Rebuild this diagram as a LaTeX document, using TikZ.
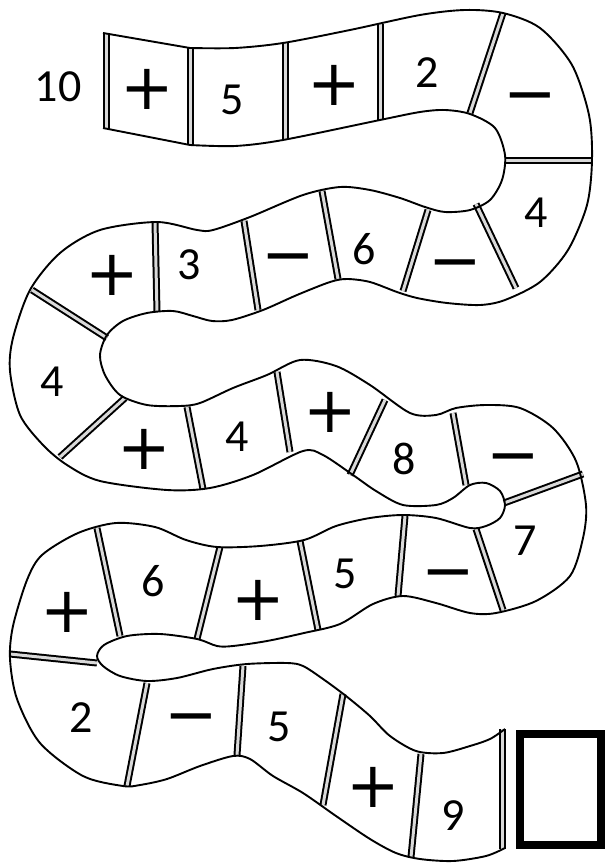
\documentclass[tikz,border=0pt]{standalone}
\usepackage{fontspec}
\usepackage{tikz}
\newfontfamily\cellfont{Carlito}
\newfontfamily\signfont{DejaVu Sans}
\tikzset{
  edge/.style={line width=1.9pt, line join=round},
  wall/.style={double=black!15, double distance=3pt, line width=2pt},
  cellnum/.style={font=\cellfont\fontsize{46}{46}\selectfont, inner sep=0pt},
  cellsign/.style={font=\signfont\fontsize{64}{64}\selectfont, inner sep=0pt},
  answerbox/.style={draw, line width=8pt, minimum width=81pt, minimum height=111pt, inner sep=0pt}
}

\begin{document}
\begin{tikzpicture}[x=1pt, y=-1pt]
  \useasboundingbox (0,0) rectangle (607,864);

  % Trennwaende zwischen den Feldern (doppelte Linien)
  \foreach \xa/\ya/\xb/\yb in {106/33/106/129, 190/48/190/145, 285/43/285/140, 380/24/380/120,
      503/13/470/113, 505/160/592/160,
      476/204/516/288, 428/210/403/291, 322/191/338/279, 244/221/258/310, 155/222/157/312, 32/290/107/338,
      60/457/125/398, 187/407/203/489, 277/372/290/452, 385/400/350/475, 453/413/466/485, 504/503/583/474,
      476/529/503/610, 405/516/398/596, 300/541/318/630, 220/547/197/639, 97/528/120/636, 10/654/97/663,
      147/683/127/786, 243/666/237/755, 343/694/323/805, 421/754/411/857, 502/729/502/849}
    \draw[wall] (\xa,\ya) -- (\xb,\yb);

  % Rand der Schlange, Seite A (oben links beginnend)
  \draw[edge] (103,33) -- (190,48) -- plot[smooth] coordinates {(190,48) (235,48) (283,43) (350,30)
      (420,15) (465,10) (503,13) (540,28) (572,65) (589,115) (592,160) (587,205) (568,250) (540,282)
      (505,300) (480,305) (447,303) (417,298) (397,292) (370,282) (347,279) (330,282) (297,295)
      (263,310) (232,320) (212,321) (193,316) (173,311) (147,313) (123,321) (107,335) (100,355)
      (105,375) (120,395) (147,405) (180,406) (200,403) (233,388) (267,375) (300,360) (336,366)
      (370,385) (410,413) (436,415) (456,408) (486,405) (520,408) (553,428) (576,461) (586,505)
      (583,538) (570,576) (536,601) (496,613) (470,613) (436,603) (403,596) (373,604) (340,624)
      (304,633) (267,641) (233,646) (217,646) (197,639) (160,634) (127,636) (104,645) (97,656)
      (103,666) (120,676) (147,681) (177,678) (213,669) (247,664) (287,663) (303,666) (323,679)
      (346,696) (370,716) (390,736) (416,751) (443,753) (470,746) (490,739) (505,729)};

  % Rand der Schlange, Seite B (vom Ende zurueck)
  \draw[edge] plot[smooth] coordinates {(505,848) (486,856) (453,861) (420,859) (396,853) (370,839)
      (336,816) (303,793) (273,776) (250,759) (233,756) (200,766) (167,779) (140,785) (123,786)
      (83,776) (40,743) (17,699) (10,659) (13,626) (27,580) (42,555) (78,533) (116,523) (155,527)
      (186,540) (217,547) (260,546) (304,540) (336,526) (370,518) (403,515) (436,518) (470,528)
      (486,526) (500,518) (505,505) (500,491) (486,483) (470,485) (453,498) (436,505) (403,505)
      (376,491) (353,475) (323,455) (303,451) (253,475) (210,488) (167,490) (100,481) (67,465)
      (43,445) (20,415) (10,371) (13,338) (30,290) (60,253) (100,230) (157,222) (197,230) (213,230)
      (250,217) (303,195) (340,187) (370,190) (400,198) (425,207) (445,212) (470,210) (490,200)
      (502,180) (505,155) (495,128) (470,114) (445,110) (420,112) (380,120) (283,140) (235,146)
      (190,145)} -- (103,128);

  % Zahlen
  \foreach \x/\y/\t [count=\i] in {58/87/10, 232/100/5, 427/73/2, 536/213/4, 364/249/6, 189/265/3,
      52/382/4, 237/437/4, 404/459/8, 525/541/7, 345/574/5, 153/581/6, 81/718/2, 279/727/5, 453/816/9}
    \node[cellnum] (num\i) at (\x,\y) {\t};

  % Vorzeichen
  \foreach \x/\y/\s [count=\i] in {147/89/+, 334/85/+, 530/95/−, 455/262/−, 288/256/−, 112/275/+,
      144/449/+, 330/412/+, 513/456/−, 448/572/−, 258/600/+, 67/612/+, 191/716/−, 373/787/+}
    \node[cellsign] (sign\i) at (\x,\y) {\vphantom{+}\s};

  % Antwortfeld
  \node[answerbox] (answer) at (560.5,789.5) {};
\end{tikzpicture}
\end{document}
